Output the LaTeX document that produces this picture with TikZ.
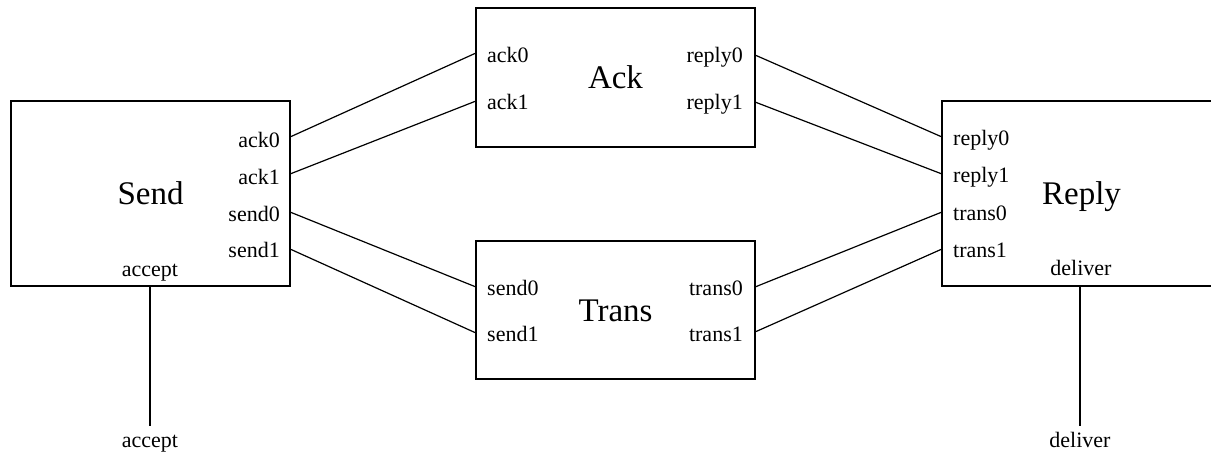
\documentclass[tikz,border=0pt]{standalone}
\usepackage{fontspec}
\setmainfont{Liberation Serif}
\begin{document}
\begin{tikzpicture}[x=1pt,y=-1pt,
  box/.style={draw, line width=1.2pt, inner sep=0pt, minimum width=279pt,
    text height=22pt, text depth=0pt, font=\fontsize{33}{36}\selectfont},
  port/.style={inner sep=0pt, font=\fontsize{22}{24}\selectfont},
  wire/.style={line width=1.2pt}]
\clip (0,0) rectangle (1211,453);
% boxes
\node[box, minimum height=185pt] (send) at (150.5,193.5) {Send};
\node[box, minimum height=139pt] (ack) at (615.5,77.5) {Ack};
\node[box, minimum height=138pt] (trans) at (615.5,310) {Trans};
\node[box, minimum height=185pt] (reply) at (1081.5,193.5) {Reply};
% port labels
\node[port, anchor=base east] (sAck0) at (280,147) {ack0};
\node[port, anchor=base east] (sAck1) at (280,184) {ack1};
\node[port, anchor=base east] (sSend0) at (280,221) {send0};
\node[port, anchor=base east] (sSend1) at (280,257) {send1};
\node[port, anchor=base] (sAccept) at (150,276) {accept};
\node[port, anchor=base west] (aAck0) at (487,62) {ack0};
\node[port, anchor=base west] (aAck1) at (487,109) {ack1};
\node[port, anchor=base east] (aRep0) at (743,62) {reply0};
\node[port, anchor=base east] (aRep1) at (743,109) {reply1};
\node[port, anchor=base west] (tSend0) at (487,295) {send0};
\node[port, anchor=base west] (tSend1) at (487,341) {send1};
\node[port, anchor=base east] (tTr0) at (743,295) {trans0};
\node[port, anchor=base east] (tTr1) at (743,341) {trans1};
\node[port, anchor=base west] (rRep0) at (953,145) {reply0};
\node[port, anchor=base west] (rRep1) at (953,182) {reply1};
\node[port, anchor=base west] (rTr0) at (953,220) {trans0};
\node[port, anchor=base west] (rTr1) at (953,257) {trans1};
\node[port, anchor=base] (rDeliver) at (1081,275) {deliver};
\node[port, anchor=base] (accept) at (150,447) {accept};
\node[port, anchor=base] (deliver) at (1080,447) {deliver};
% connector end points
\coordinate (pS1) at (290,137);
\coordinate (pS2) at (290,174);
\coordinate (pS3) at (290,212);
\coordinate (pS4) at (290,249);
\coordinate (pA1) at (476,53);
\coordinate (pA2) at (476,101);
\coordinate (pA3) at (755,55);
\coordinate (pA4) at (755,102);
\coordinate (pT1) at (476,287);
\coordinate (pT2) at (476,333);
\coordinate (pT3) at (755,287);
\coordinate (pT4) at (755,332);
\coordinate (pR1) at (942,137);
\coordinate (pR2) at (942,174);
\coordinate (pR3) at (942,212);
\coordinate (pR4) at (942,249);
\coordinate (accTop) at (150,286);
\coordinate (accBot) at (150,426);
\coordinate (delTop) at (1080,286);
\coordinate (delBot) at (1080,426);
% connectors
\draw[wire] (pS1) -- (pA1);
\draw[wire] (pS2) -- (pA2);
\draw[wire] (pS3) -- (pT1);
\draw[wire] (pS4) -- (pT2);
\draw[wire] (pA3) -- (pR1);
\draw[wire] (pA4) -- (pR2);
\draw[wire] (pT3) -- (pR3);
\draw[wire] (pT4) -- (pR4);
\draw[wire] (accTop) -- (accBot);
\draw[wire] (delTop) -- (delBot);
\end{tikzpicture}
\end{document}
